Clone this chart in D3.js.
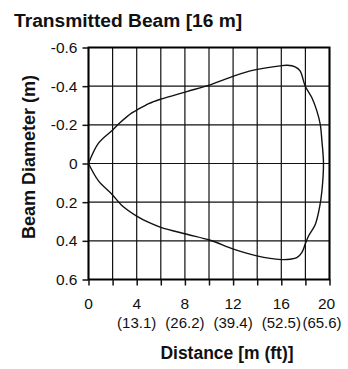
<!DOCTYPE html>
<html>
<head>
<meta charset="utf-8">
<script src="https://cdn.jsdelivr.net/npm/d3@7"></script>
<style>
  html, body { margin: 0; padding: 0; background: #fff; }
  svg { display: block; }
  text { font-family: "Liberation Sans", Arial, Helvetica, sans-serif; fill: #111; }
</style>
</head>
<body>
<svg id="chart" width="348" height="369"></svg>
<script>
// Beam outline: distance (m) and beam diameter (m), upper edge then lower edge
const upperDist = [0, 0.83, 1.94, 2.63, 3.6, 4.0, 5.0, 6.0, 8.16, 10.1, 11.2, 13.42, 15.9, 16.5, 17.15, 17.56, 17.98, 18.53, 18.95, 19.23, 19.37, 19.5];
const upperDiam = [0, -0.105, -0.17, -0.212, -0.262, -0.276, -0.31, -0.333, -0.372, -0.407, -0.433, -0.479, -0.505, -0.508, -0.5, -0.479, -0.401, -0.341, -0.272, -0.203, -0.117, 0];
const lowerDist = [19.37, 19.17, 18.82, 18.26, 17.98, 17.7, 17.29, 16.74, 16.0, 13.97, 12.03, 10.1, 8.17, 6.0, 5.0, 4.0, 2.77, 1.94, 0.83, 0];
const lowerDiam = [0.142, 0.228, 0.315, 0.375, 0.418, 0.461, 0.487, 0.495, 0.497, 0.478, 0.443, 0.397, 0.366, 0.33, 0.305, 0.272, 0.217, 0.159, 0.09, 0];

// Axis ticks and labels
const xTicks = [0, 2, 4, 6, 8, 10, 12, 14, 16, 18, 20];
const xLabelTicks = [0, 4, 8, 12, 16, 20];
const xFeetLabels = ["", "(13.1)", "(26.2)", "(39.4)", "(52.5)", "(65.6)"];
const yTicks = [-0.6, -0.4, -0.2, 0, 0.2, 0.4, 0.6];
const yLabels = ["-0.6", "-0.4", "-0.2", "0", "0.2", "0.4", "0.6"];

const titleText = "Transmitted Beam [16 m]";
const xTitle = "Distance [m (ft)]";
const yTitle = "Beam Diameter (m)";

const svg = d3.select("#chart");
const plotLeft = 88.5, plotTop = 47.5, plotRight = 329.5, plotBottom = 279.5;

const x = d3.scaleLinear().domain([0, 20]).range([plotLeft, plotRight]);
const y = d3.scaleLinear().domain([-0.6, 0.6]).range([plotTop, plotBottom]);

// Grid
const grid = svg.append("g");
grid.selectAll("line.v").data(xTicks).join("line")
  .attr("class", "v")
  .attr("x1", d => x(d)).attr("x2", d => x(d))
  .attr("y1", plotTop).attr("y2", plotBottom)
  .attr("stroke", "#111").attr("stroke-width", 1.2);
grid.selectAll("line.h").data(yTicks).join("line")
  .attr("class", "h")
  .attr("x1", plotLeft).attr("x2", plotRight)
  .attr("y1", d => y(d)).attr("y2", d => y(d))
  .attr("stroke", "#111").attr("stroke-width", 1.2);

// Frame
svg.append("rect")
  .attr("x", plotLeft).attr("y", plotTop)
  .attr("width", plotRight - plotLeft).attr("height", plotBottom - plotTop)
  .attr("fill", "none").attr("stroke", "#000").attr("stroke-width", 2);

// Left axis ticks and labels
const yAxis = d3.axisLeft(y).tickValues(yTicks).tickSize(6).tickPadding(5)
  .tickFormat((d, i) => yLabels[i]);
const gy = svg.append("g").attr("transform", `translate(${plotLeft},0)`).call(yAxis);
gy.select(".domain").remove();
gy.selectAll(".tick line").attr("stroke", "#111").attr("stroke-width", 1.5);
gy.selectAll(".tick text").attr("font-size", 15.5).attr("fill", "#111")
  .style("font-family", '"Liberation Sans", Arial, Helvetica, sans-serif');

// Bottom axis ticks
const xAxis = d3.axisBottom(x).tickValues(xTicks).tickSize(6).tickFormat("");
const gx = svg.append("g").attr("transform", `translate(0,${plotBottom})`).call(xAxis);
gx.select(".domain").remove();
gx.selectAll(".tick line").attr("stroke", "#111").attr("stroke-width", 1.5);

// Bottom labels: metres with feet underneath (last pair pulled in from the edge)
const lastTick = xLabelTicks[xLabelTicks.length - 1];
const xl = svg.append("g");
xl.selectAll("text.m").data(xLabelTicks).join("text")
  .attr("class", "m")
  .attr("x", d => x(d) - (d === lastTick ? 3 : 0)).attr("y", 309)
  .attr("text-anchor", "middle").attr("font-size", 15.5)
  .text(d => d);
xl.selectAll("text.ft").data(xLabelTicks).join("text")
  .attr("class", "ft")
  .attr("x", d => x(d) - (d === lastTick ? 7.5 : 0)).attr("y", 328)
  .attr("text-anchor", "middle").attr("font-size", 15)
  .text((d, i) => xFeetLabels[i]);

// Beam outline
const pts = upperDist.map((d, i) => [d, upperDiam[i]])
  .concat(lowerDist.map((d, i) => [d, lowerDiam[i]]));
const line = d3.line().x(d => x(d[0])).y(d => y(d[1])).curve(d3.curveCatmullRom.alpha(0.5));
svg.append("path").attr("d", line(pts))
  .attr("fill", "none").attr("stroke", "#111").attr("stroke-width", 1.4);

// Titles
svg.append("text").attr("x", 14).attr("y", 26.5)
  .attr("font-size", 19.2).attr("font-weight", "bold").text(titleText);
svg.append("text").attr("x", 227).attr("y", 359)
  .attr("text-anchor", "middle").attr("font-size", 17.5).attr("font-weight", "bold").text(xTitle);
svg.append("text")
  .attr("transform", "translate(35,157) rotate(-90)")
  .attr("text-anchor", "middle").attr("font-size", 18).attr("font-weight", "bold").text(yTitle);
</script>
</body>
</html>
